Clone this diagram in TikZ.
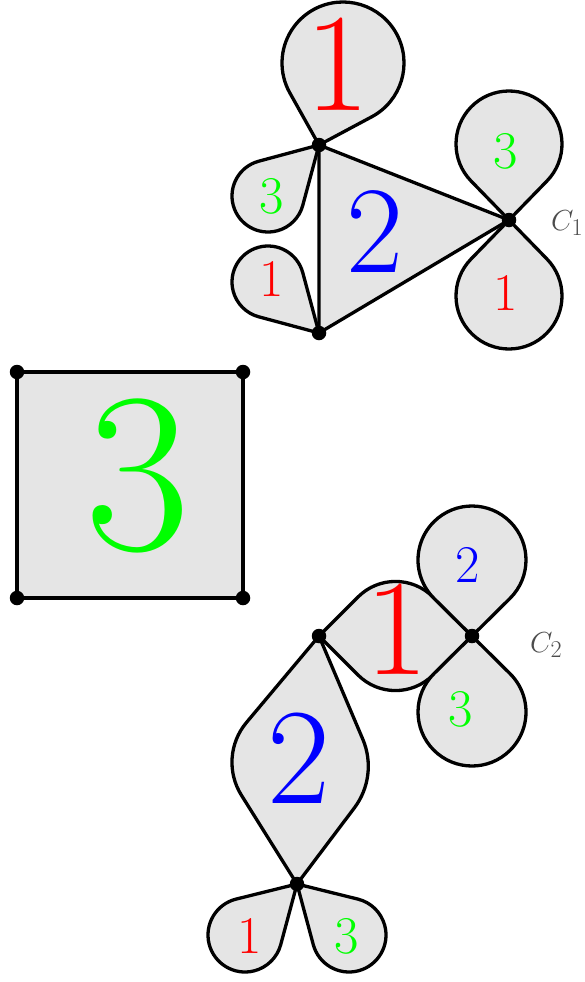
\documentclass[tikz,border=0pt]{standalone}
\usetikzlibrary{calc}
\tikzset{
  shp/.style={fill=black!10, draw=black, line width=3.3pt, line join=round},
  vdot/.style={circle, fill=black, inner sep=0pt, minimum size=14.5pt},
  lbl/.style={inner sep=0pt},
  clbl/.style={inner sep=0pt, anchor=base west, text=black!70, font=\fontsize{24.88}{25}\selectfont, scale=1.165},
}
\newcommand\fs[1]{\fontsize{#1}{#1}\selectfont}
\newcommand\petal[4]{%
  \filldraw[shp] let \p1=(#1), \p2=(#2,-#3),
     \n1={veclen(\x2-\x1,\y2-\y1)}, \n2={atan2(\y2-\y1,\x2-\x1)}, \n3={acos(#4/\n1)}
   in (#1) -- ($(\p2)+(\n2+180+\n3:#4)$) arc[start angle=\n2+180+\n3, delta angle=360-2*\n3, radius=#4] -- cycle;}
\begin{document}
\begin{tikzpicture}[x=1pt,y=1pt]
\useasboundingbox (0,0) rectangle (585,-982);
\coordinate (A) at (319,-145);
\coordinate (B) at (319,-333);
\coordinate (C1) at (509,-220);
\coordinate (S1) at (17,-372);
\coordinate (S2) at (243,-372);
\coordinate (S3) at (243,-598);
\coordinate (S4) at (17,-598);
\coordinate (P) at (319,-636);
\coordinate (C2) at (472,-636);
\coordinate (Q) at (297,-884);
\coordinate (K1) at (395.5,-559.5);
\coordinate (K2) at (395.5,-712.5);
\coordinate (L) at (217.5,-757);
\coordinate (R) at (378.4,-776);
% top figure
\filldraw[shp] (A) -- (C1) -- (B) -- cycle;
\petal{A}{343}{63}{61}
\petal{A}{268}{196}{36}
\petal{B}{268}{282}{36}
\petal{C1}{509}{144}{53}
\petal{C1}{509}{296}{53}
% square
\filldraw[shp] (S1) -- (S2) -- (S3) -- (S4) -- cycle;
% bottom figure
\filldraw[shp] (P) -- ($(K1)!53pt!(P)$) .. controls ($(K1)!23.7pt!(P)$) and ($(K1)!23.7pt!(C2)$) .. ($(K1)!53pt!(C2)$)
  -- (C2) -- ($(K2)!53pt!(C2)$) .. controls ($(K2)!23.7pt!(C2)$) and ($(K2)!23.7pt!(P)$) .. ($(K2)!53pt!(P)$) -- cycle;
\filldraw[shp] (P) -- ($(L)!45pt!(P)$) .. controls ($(L)!18.2pt!(P)$) and ($(L)!18.2pt!(Q)$) .. ($(L)!45pt!(Q)$)
  -- (Q) -- ($(R)!40pt!(Q)$) .. controls ($(R)!15.2pt!(Q)$) and ($(R)!15.2pt!(P)$) .. ($(R)!40pt!(P)$) -- cycle;
\petal{C2}{472}{560}{54}
\petal{C2}{472}{712}{54}
\petal{Q}{245}{935}{37}
\petal{Q}{349}{935}{37}
% vertices
\foreach \v in {A,B,C1,S1,S2,S3,S4,P,C2,Q} \node[vdot] (d\v) at (\v) {};
% labels
\node[lbl, text=red, font=\fs{140}] (l1) at (338,-64) {1};
\node[lbl, text=blue, font=\fs{124}] (l2) at (375,-232) {2};
\node[lbl, text=green, font=\fs{53}] (l3) at (272,-196) {3};
\node[lbl, text=red, font=\fs{53}] (l4) at (272,-279) {1};
\node[lbl, text=green, font=\fs{53}] (l5) at (506,-151) {3};
\node[lbl, text=red, font=\fs{53}] (l6) at (506,-293) {1};
\node[clbl] (c1) at (551,-230) {$C_1$};
\node[lbl, text=green, font=\fs{228}] (l7) at (137.5,-476) {3};
\node[lbl, text=red, font=\fs{137}] (l8) at (397,-629) {1};
\node[lbl, text=blue, font=\fs{137}] (l9) at (299,-758) {2};
\node[lbl, text=blue, font=\fs{53}] (l10) at (468,-565) {2};
\node[lbl, text=green, font=\fs{53}] (l11) at (461,-709) {3};
\node[lbl, text=red, font=\fs{53}] (l12) at (250,-936) {1};
\node[lbl, text=green, font=\fs{53}] (l13) at (347,-936) {3};
\node[clbl] (c2) at (530,-652) {$C_2$};
\end{tikzpicture}
\end{document}
